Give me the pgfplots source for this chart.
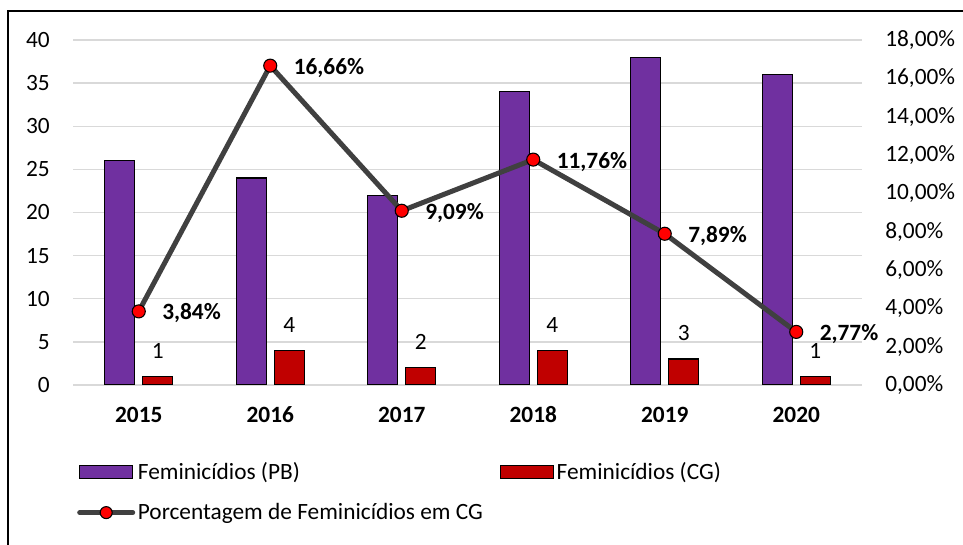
\documentclass[border=0pt]{standalone}
\usepackage{fontspec}
\setmainfont{Carlito}
\usepackage{pgfplots}
\pgfplotsset{compat=1.18}
\definecolor{pbpurple}{HTML}{7030A0}
\definecolor{cgred}{HTML}{C00000}
\definecolor{linegray}{HTML}{404040}
\definecolor{gridgray}{HTML}{D9D9D9}
\definecolor{mkred}{HTML}{FF0000}
\newcommand{\chartfont}{\fontsize{17.5}{21}\selectfont}
\begin{document}
\begin{tikzpicture}[x=1pt,y=1pt]
\useasboundingbox (0,0) rectangle (722.25,408.75);
\fill[white] (0,0) rectangle (722.25,408.75);
\draw[black,line width=1.5pt] (6,-10) -- (6,400.5) -- (740,400.5);
\begin{axis}[
  at={(54.75pt,120pt)}, anchor=south west,
  scale only axis, width=591.75pt, height=258.75pt,
  xmin=-0.5, xmax=5.5, ymin=0, ymax=40,
  xtick={0,1,2,3,4,5},
  xticklabels={2015,2016,2017,2018,2019,2020},
  ytick={0,5,...,40},
  axis line style={draw=none}, major tick length=0pt,
  ymajorgrids, grid style={gridgray, line width=1.1pt},
  font=\chartfont,
  /pgf/number format/assume math mode=true,
  yticklabel style={anchor=east, inner sep=0pt, xshift=-17.25pt, font=\chartfont},
  xticklabel style={anchor=base, inner sep=0pt, yshift=-28pt, font=\bfseries\chartfont},
  legend columns=2,
  legend cell align=left,
  legend style={at={(0.005,-0.216)}, anchor=north west, draw=none, fill=none,
    inner sep=0pt, font=\chartfont, row sep=12.5pt,
    /tikz/every even column/.append style={column sep=10.5pt}},
]
\addplot[ybar, bar width=22.5pt, bar shift=-14.25pt, fill=pbpurple, draw=black, line width=1.1pt,
  legend image code/.code={\draw[fill=pbpurple,draw=black,line width=1.1pt] (0pt,-4.9pt) rectangle (39.75pt,4.9pt);}]
  coordinates {(0,26) (1,24) (2,22) (3,34) (4,38) (5,36)};
\addlegendentry{Feminicídios (PB)}
\addplot[ybar, bar width=22.5pt, bar shift=14.25pt, fill=cgred, draw=black, line width=1.1pt,
  nodes near coords,
  every node near coord/.append style={font=\chartfont, inner sep=0pt, xshift=14.25pt, yshift=13pt, text=black},
  legend image code/.code={\draw[fill=cgred,draw=black,line width=1.1pt] (0pt,-4.9pt) rectangle (39.75pt,4.9pt);}]
  coordinates {(0,1) (1,4) (2,2) (3,4) (4,3) (5,1)};
\addlegendentry{Feminicídios (CG)}
\addlegendimage{legend image code/.code={\draw[linegray,line width=3.75pt,line cap=round] (0pt,0pt) -- (39.75pt,0pt); \draw[black,fill=mkred,line width=0.8pt] (19.875pt,0pt) circle (4.5pt);}}
\addlegendentry{Porcentagem de Feminicídios em CG}
\end{axis}
\begin{axis}[
  at={(54.75pt,120pt)}, anchor=south west,
  scale only axis, width=591.75pt, height=258.75pt,
  xmin=-0.5, xmax=5.5, ymin=0, ymax=18,
  axis x line=none, xtick=\empty,
  axis y line*=right,
  axis line style={draw=none}, major tick length=0pt,
  ytick={0,2,...,18},
  font=\chartfont,
  /pgf/number format/assume math mode=true,
  yticklabel={\pgfmathprintnumber[fixed,fixed zerofill,precision=2,use comma]{\tick}\%},
  yticklabel style={anchor=west, inner sep=0pt, xshift=17.25pt, font=\chartfont},
]
\addplot[linegray, line width=3.75pt, line join=round,
  mark=*, mark size=4.9pt, mark options={fill=mkred, draw=black, line width=0.8pt},
  point meta=y,
  nodes near coords={\pgfmathprintnumber[fixed,fixed zerofill,precision=2,use comma]{\pgfplotspointmeta}\%},
  every node near coord/.append style={anchor=west, inner sep=0pt, xshift=17.25pt, yshift=-1.5pt, text=black, font=\bfseries\chartfont}]
  coordinates {(0,3.84) (1,16.66) (2,9.09) (3,11.76) (4,7.89) (5,2.77)};
\end{axis}
\end{tikzpicture}
\end{document}
